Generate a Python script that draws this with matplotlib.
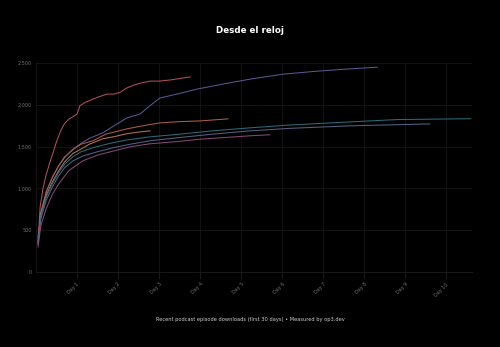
import matplotlib
matplotlib.use("Agg")
import matplotlib.pyplot as plt

# cumulative downloads per episode, x = days since release
red_d = [0.05, 0.1, 0.17, 0.24, 0.33, 0.41, 0.5, 0.61, 0.7, 0.8, 0.9, 1.0, 1.07, 1.2, 1.39, 1.55,
         1.73, 1.9, 2.05, 2.2, 2.4, 2.54, 2.78, 3.0, 3.3, 3.55, 3.76]
red_v = [330, 775, 1000, 1150, 1300, 1420, 1560, 1700, 1780, 1830, 1860, 1890, 1990, 2030, 2070, 2100,
         2130, 2130, 2150, 2200, 2240, 2260, 2285, 2285, 2300, 2320, 2335]

purple_d = [0.05, 0.12, 0.25, 0.4, 0.55, 0.7, 0.9, 1.1, 1.3, 1.63, 1.9, 2.22, 2.54, 2.71, 3.02, 3.44,
            3.93, 4.56, 5.22, 6.02, 6.85, 7.6, 8.32]
purple_v = [350, 700, 960, 1140, 1270, 1370, 1470, 1540, 1600, 1666, 1750, 1845, 1892, 1964, 2083, 2130,
            2190, 2250, 2309, 2368, 2404, 2430, 2452]

orangered_d = [0.05, 0.12, 0.25, 0.4, 0.55, 0.7, 0.9, 1.1, 1.39, 1.7, 2.22, 2.6, 3.02, 3.5, 4.0, 4.68]
orangered_v = [380, 720, 960, 1130, 1270, 1380, 1464, 1530, 1571, 1650, 1714, 1750, 1785, 1800, 1809, 1833]

orange_d = [0.05, 0.12, 0.25, 0.4, 0.55, 0.7, 0.9, 1.07, 1.3, 1.63, 1.9, 2.2, 2.5, 2.78]
orange_v = [420, 700, 920, 1080, 1210, 1320, 1420, 1464, 1530, 1595, 1620, 1654, 1675, 1690]

teal_d = [0.05, 0.12, 0.25, 0.4, 0.55, 0.7, 0.9, 1.1, 1.4, 1.8, 2.2, 2.78, 3.5, 4.3, 5.22, 6.2,
          7.66, 8.8, 9.7, 10.6]
teal_v = [360, 680, 900, 1060, 1190, 1290, 1380, 1440, 1490, 1540, 1580, 1618, 1650, 1690, 1726, 1760,
          1797, 1825, 1830, 1835]

slate_d = [0.05, 0.12, 0.25, 0.4, 0.55, 0.7, 0.9, 1.15, 1.5, 1.9, 2.3, 2.78, 3.5, 4.3, 5.22, 6.2,
           7.66, 8.5, 9.6]
slate_v = [340, 640, 860, 1020, 1150, 1250, 1330, 1390, 1440, 1490, 1530, 1571, 1610, 1650, 1690, 1720,
           1750, 1760, 1773]

pink_d = [0.05, 0.12, 0.25, 0.4, 0.56, 0.8, 1.15, 1.5, 1.9, 2.3, 2.78, 3.4, 4.0, 4.6, 5.2, 5.7]
pink_v = [300, 560, 760, 930, 1060, 1214, 1333, 1400, 1450, 1500, 1535, 1560, 1590, 1610, 1630, 1643]

SERIES = [(red_d, red_v, "#b0505e"),
          (purple_d, purple_v, "#585892"),
          (orangered_d, orangered_v, "#ac5c4c"),
          (orange_d, orange_v, "#b87454"),
          (teal_d, teal_v, "#2c6a78"),
          (slate_d, slate_v, "#526284"),
          (pink_d, pink_v, "#844878")]

day_ticks = list(range(1, 11))
day_labels = [f"Day {d}" for d in day_ticks]
y_ticks = [0, 500, 1000, 1500, 2000, 2500]

fig = plt.figure(figsize=(5, 3.47), dpi=100, facecolor="black")
ax = fig.add_axes([0.072, 0.216, 0.872, 0.602], facecolor="black")

for d, v, color in SERIES:
    ax.plot(d, v, lw=0.75, color=color)

ax.set_xlim(0, 10.63)
ax.set_ylim(0, 2500)
ax.set_xticks(day_ticks)
ax.set_xticklabels(day_labels, rotation=45, ha="right", rotation_mode="anchor",
                   fontsize=3.5, color="#707070")
ax.set_yticks(y_ticks)
ax.set_yticklabels([f"{t:,}" for t in y_ticks], fontsize=3.5, color="#707070")
ax.tick_params(axis="x", length=5, color="#1a1a1a", pad=2)
ax.tick_params(axis="y", length=0, pad=3)
ax.grid(True, color="#161616", lw=0.6)
ax.set_axisbelow(True)
for side in ["top", "right"]:
    ax.spines[side].set_visible(False)
ax.spines["left"].set_color("#161616")
ax.spines["bottom"].set_color("#1c1c1c")
ax.spines["left"].set_linewidth(0.6)
ax.spines["bottom"].set_linewidth(0.6)

fig.text(0.5, 0.912, "Desde el reloj", ha="center", va="center",
         fontsize=6.3, fontweight="bold", color="white")
fig.text(0.5, 0.078, "Recent podcast episode downloads (first 30 days) \u2022 Measured by op3.dev",
         ha="center", va="center", fontsize=3.7, color="#cccccc")

fig.savefig("out.png", dpi=100, facecolor="black")
